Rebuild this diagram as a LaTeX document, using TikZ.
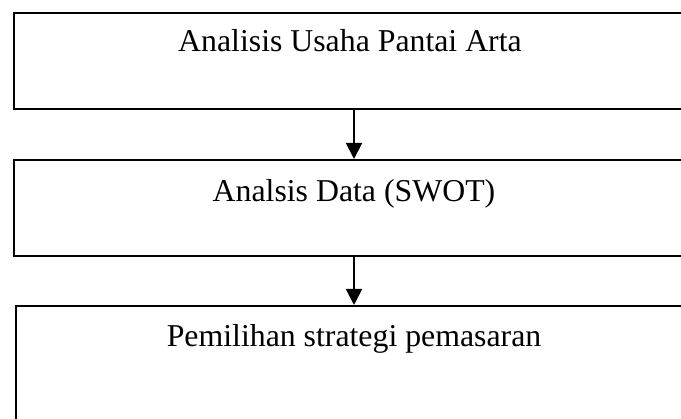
\documentclass[tikz,border=0pt]{standalone}
\usepackage{fontspec}
\setmainfont{Liberation Serif}
\usetikzlibrary{arrows.meta}
\begin{document}
\begin{tikzpicture}[x=1pt,y=1pt,
  stagebox/.style={draw=black, line width=2pt, rectangle, anchor=north west, inner sep=0pt},
  stagetext/.style={anchor=base, font=\fontsize{31.8}{38}\selectfont, inner sep=0pt},
  flow/.style={line width=2pt, -{Triangle[length=16pt,width=16pt]}}]
  \useasboundingbox (0,0) rectangle (681,419);
  \clip (0,0) rectangle (681,419);
  \fill[white] (0,0) rectangle (681,419);
  % process stages, running off the right edge
  \node[stagebox, minimum width=690pt, minimum height=96pt] (b1) at (13,407) {};
  \node[stagebox, minimum width=690pt, minimum height=96pt] (b2) at (13,260) {};
  \node[stagebox, minimum width=690pt, minimum height=130pt] (b3) at (15,114) {};
  % stage captions
  \node[stagetext] (t1) at (350,367) {Analisis Usaha Pantai Arta};
  \node[stagetext] (t2) at (354,217) {Analsis Data (SWOT)};
  \node[stagetext] (t3) at (354,72) {Pemilihan strategi pemasaran};
  % connectors
  \coordinate (ax) at (354,0);
  \draw[flow] (b1.south -| ax) -- (b2.north -| ax);
  \draw[flow] (b2.south -| ax) -- (b3.north -| ax);
\end{tikzpicture}
\end{document}
